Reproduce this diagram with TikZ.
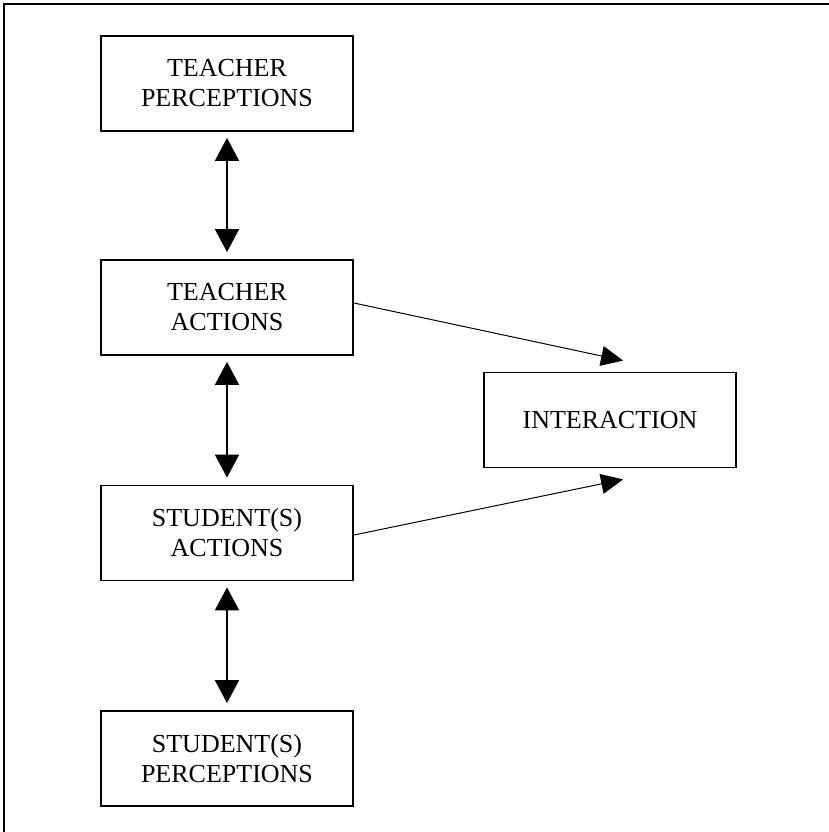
\documentclass[tikz,border=0pt]{standalone}
\usepackage{fontspec}
\setmainfont{Liberation Serif}
\usetikzlibrary{arrows.meta,calc}
\begin{document}
\begin{tikzpicture}[x=1pt,y=-1pt,
  box/.style={draw,line width=1.8pt,minimum width=252pt,minimum height=95pt,inner sep=0pt,
    align=center,font=\fontsize{26}{30}\selectfont},
  dbl/.style={line width=1.8pt,{Triangle[length=23pt,width=24pt]}-{Triangle[length=23pt,width=24pt]},
    shorten <=6pt,shorten >=7pt},
  one/.style={line width=1pt,-{Triangle[length=22pt,width=20pt]}}]
\useasboundingbox (0,0) rectangle (829,832);
\draw[line width=2pt] (4.3,833) -- (4.3,4) -- (830,4);
\node[box] (tp) at (227,83.5) {TEACHER\\PERCEPTIONS};
\node[box] (ta) at (227,307.5) {TEACHER\\ACTIONS};
\node[box] (sa) at (227,533) {STUDENT(S)\\ACTIONS};
\node[box] (sp) at (227,758.5) {STUDENT(S)\\PERCEPTIONS};
\node[box] (in) at (610,420) {INTERACTION};
\draw[dbl] (tp.south) -- (ta.north);
\draw[dbl] (ta.south) -- (sa.north);
\draw[dbl] (sa.south) -- (sp.north);
\coordinate (t1) at ($(in.north west)+(140,-11)$);
\coordinate (t2) at ($(in.south west)+(140,11)$);
\draw[one] ($(ta.east)+(0,-4.5)$) -- (t1);
\draw[one] ($(sa.east)+(0,2)$) -- (t2);
\end{tikzpicture}
\end{document}
